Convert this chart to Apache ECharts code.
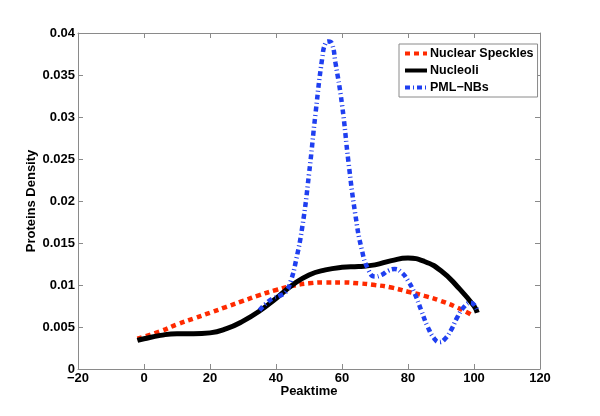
<!DOCTYPE html>
<html>
<head>
<meta charset="utf-8">
<script src="https://cdn.jsdelivr.net/npm/echarts@6/dist/echarts.min.js"></script>
<style>html,body{margin:0;padding:0;background:#fff}#c{width:600px;height:416px}</style>
</head>
<body>
<div id="c"></div>
<script>
// Data
var seriesNames = ['Nuclear Speckles', 'Nucleoli', 'PML\u2212NBs'];
var speckX = [-2, 5, 10, 15, 20, 25, 30, 35, 40, 45, 50, 55, 60, 65, 70, 75, 80, 85, 90, 95, 99];
var speckY = [0.0036, 0.0045, 0.0053, 0.0060, 0.0067, 0.0074, 0.0081, 0.0088, 0.0094, 0.0099, 0.0102, 0.0103, 0.0103, 0.0102, 0.0100, 0.0097, 0.0092, 0.0087, 0.0081, 0.0073, 0.0065];
var nucX = [-2, 0, 5, 10, 15, 20, 25, 30, 35, 40, 45, 50, 55, 60, 65, 70, 75, 80, 85, 90, 95, 100, 101];
var nucY = [0.0034, 0.0036, 0.0040, 0.0042, 0.0042, 0.0043, 0.0048, 0.0057, 0.0069, 0.0084, 0.0100, 0.0112, 0.0118, 0.0121, 0.0122, 0.0124, 0.0129, 0.0132, 0.0128, 0.0117, 0.0098, 0.0075, 0.0067];
var pmlX = [35, 37, 39, 41, 43, 44.5, 46, 48, 50, 52, 54, 55, 56, 57, 58, 60, 62, 64, 66, 68, 70, 72, 74, 76, 78, 80, 82, 84, 86, 88, 89.5, 91, 93, 95, 97, 99, 101];
var pmlY = [0.0070, 0.0078, 0.0084, 0.0087, 0.0092, 0.0105, 0.0128, 0.0170, 0.0232, 0.0305, 0.0370, 0.0388, 0.0390, 0.0387, 0.0365, 0.0315, 0.0245, 0.0185, 0.0142, 0.0118, 0.0110, 0.0112, 0.0117, 0.0119, 0.0115, 0.0105, 0.0090, 0.0070, 0.0050, 0.0036, 0.0032, 0.0035, 0.0046, 0.0062, 0.0074, 0.0079, 0.0070];
var xTicks = [-20, 0, 20, 40, 60, 80, 100, 120];
var yTicks = [0, 0.005, 0.01, 0.015, 0.02, 0.025, 0.03, 0.035, 0.04];

function pairs(xs, ys) { return xs.map(function (x, i) { return [x, ys[i]]; }); }

var FONT = '"Liberation Sans", Arial, Helvetica, sans-serif';
var axisGray = '#8a8a8a';
var chart = echarts.init(document.getElementById('c'), null, {renderer: 'canvas'});
var xBase = {
  type: 'value', min: xTicks[0], max: xTicks[xTicks.length - 1], interval: 20,
  axisLine: {onZero: false, lineStyle: {color: axisGray, width: 1}},
  axisTick: {inside: true, length: 5, lineStyle: {color: axisGray}},
  splitLine: {show: false}
};
var yBase = {
  type: 'value', min: yTicks[0], max: yTicks[yTicks.length - 1], interval: 0.005,
  axisLine: {onZero: false, lineStyle: {color: axisGray, width: 1}},
  axisTick: {inside: true, length: 5, lineStyle: {color: axisGray}},
  splitLine: {show: false}
};
chart.setOption({
  animation: false,
  backgroundColor: '#fff',
  grid: {left: 78, right: 60, top: 33, bottom: 47},
  legend: {
    orient: 'vertical', left: 399, top: 44,
    data: seriesNames,
    borderColor: axisGray, borderWidth: 1, padding: [3, 4, 3, 4],
    itemGap: 4, itemWidth: 22, itemHeight: 12,
    backgroundColor: '#fff',
    itemStyle: {opacity: 0},
    lineStyle: {width: 4},
    textStyle: {fontFamily: FONT, fontWeight: 'bold', fontSize: 12.5, color: '#000', padding: [0, 0, 0, -2]}
  },
  xAxis: [
    Object.assign({}, xBase, {
      position: 'bottom',
      name: 'Peaktime', nameLocation: 'middle', nameGap: 16, nameMoveOverlap: false,
      nameTextStyle: {fontFamily: FONT, fontWeight: 'bold', fontSize: 13, color: '#000'},
      axisLabel: {fontFamily: FONT, fontWeight: 'bold', fontSize: 13, color: '#000', margin: 3,
        formatter: function (v) { return String(v).replace('-', '\u2212'); }}
    }),
    Object.assign({}, xBase, {position: 'top', axisLabel: {show: false}})
  ],
  yAxis: [
    Object.assign({}, yBase, {
      position: 'left',
      name: 'Proteins Density', nameLocation: 'middle', nameGap: 40, nameMoveOverlap: false,
      nameTextStyle: {fontFamily: FONT, fontWeight: 'bold', fontSize: 13, color: '#000'},
      axisLabel: {fontFamily: FONT, fontWeight: 'bold', fontSize: 13, color: '#000', margin: 3,
        formatter: function (v) { return String(Number(v.toFixed(4))); }}
    }),
    Object.assign({}, yBase, {position: 'right', axisLabel: {show: false}})
  ],
  series: [
    {
      name: seriesNames[0], type: 'line', smooth: true, showSymbol: false, symbol: 'none',
      data: pairs(speckX, speckY), z: 2,
      lineStyle: {color: '#ff2a00', width: 4.5, type: [5, 4], cap: 'butt'},
      itemStyle: {color: '#ff2a00'}
    },
    {
      name: seriesNames[1], type: 'line', smooth: true, showSymbol: false, symbol: 'none',
      data: pairs(nucX, nucY), z: 3,
      lineStyle: {color: '#000', width: 5},
      itemStyle: {color: '#000'}
    },
    {
      name: seriesNames[2], type: 'line', smooth: true, showSymbol: false, symbol: 'none',
      data: pairs(pmlX, pmlY), z: 4,
      lineStyle: {color: '#1f3ff0', width: 4.5, type: [5, 3, 1, 3], cap: 'butt'},
      itemStyle: {color: '#1f3ff0'}
    }
  ]
});
</script>
</body>
</html>
